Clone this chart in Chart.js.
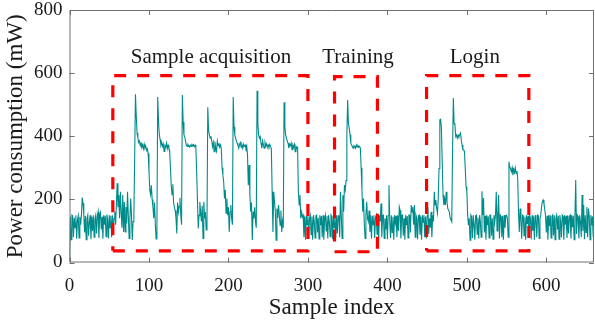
<!DOCTYPE html>
<html><head><meta charset="utf-8">
<script src="https://cdn.jsdelivr.net/npm/chart.js@4/dist/chart.umd.min.js"></script>
<style>html,body{margin:0;padding:0;background:#fff;}#wrap{width:595px;height:322px;position:relative;}</style>
</head><body><div id="wrap"><canvas id="c"></canvas></div>
<script>
// ---- data (power consumption in mW per sample index) ----
const baseA = [0,145,72,150,148,80,142,110,150,75,
135,148,78,145,120,150,206,188,150,95,
148,72,140,150,85,128,150,74,145,100,
150,80,138,150,92,147,161,78,150,158,
105,145,75,150,120,148,82,152,135,76,
150,110,148,80];
const preAcq = [150,95,140,161,120,187,251,175,214,140,224,160,110,214,97,192,97,176,124,224,150,76,140,203,150,71,130,150,330];
const cycle1 = [533,465,410,395,380,385,370,378,365,372,360,375,362,368,355,360,345,290,230,215,245,200,175,140,190,120,75,110];
const cycle2 = [524,450,405,390,372,380,368,376,352,370,365,378,360,372,362,355,300,245,215,248,190,175,165,140,92,190,160,178,205,150,120];
const cycle3 = [531,445,404,399,385,372,368,374,370,366,372,368,373,370,374,367,372,365,288,198,108,150,192,160,130,180,76,192,140,160,103,130];
const cycle4 = [492,420,404,394,400,385,367,380,351,383,360,352,385,370,378,365,372,360,300,277,256,203,230,156,203,150,175,97,161,182,140,120];
const cycle5 = [524,430,404,394,385,378,370,362,375,380,365,372,362,375,368,372,362,370,341,245,309,214,161,190,71,161,140,175,129,110];
const cycle6 = [544,440,404,394,399,378,362,385,372,362,380,370,376,365,372,366,374,368,360,224,97,224,192,161,71,171,140,182,150,118,165,97,130,110];
const cycle7 = [508,430,404,394,385,378,362,375,370,378,357,372,365,374,351,368,362,365,224,182,214,140,160,145];
const baseB = [150,80,145,72,148,120,150,76,140,150,
88,146,72,150,130,78,148,150,95,142,
75,150,118,147,80,150,72,138,150,100,
148,76,150,128,82,150,145,74,150,110,
140,78,150,92,148,150,80];
const training = [224,150,76,214,161,245,230,260,404,515,440,425,405,378,372,367,362,370,365,362,372,366,370,365,368,362,300,230,161,203,120,76,150,192,140,130,165];
const baseC = [97,150,75,148,120,150,78,142,150,90,
146,72,150,130,187,80,148,150,76,140,
105,150,74,148,245,130,78,150,95,145,
72,150,125,148,80,150,100,176,165,76,
148,150,85,140,72,150,118,147,78,150,
150,95,182,160,176,120,182,80,150,140,
74,148,150,88,145,72,150,128,150,80,
146,76];
const login = [148,176,90,140,110,161,80,150,130,224,
182,198,171,156,203,298,452,454,425,319,
214,182,200,182,224,192,171,166,160,140,
135,129,351,521,441,436,399,404,394,404,
399,405,410,388,372,357,357,351,298,240,
226,150,118,140,71];
const baseD = [150,145,78,150,120,72,148,150,90,142,
76,150,130,80,226,150,204,95,148,72,
150,118,146,78,150,150,85,140,74,150,
126,148,224,100,150,214,76,150,145,80,
148,72,150,110,148,150,140,80];
const login2 = [319,303,297,288,300,277,295,285,300,282,290,267,161,97,171,140];
const baseE = [75,150,148,85,145,72,150,122,148,78,
150,140,74,150,100,146,72,150,135,80,
150,148,76,140,150,175,192,198,188,168,
150,95,148,72,150,115,150,78,145,150,
86,150,72,140,150,104,148,74,150,130,
80,150,146,72,150,120,148,78,150,92,
145,150,75,150,112,148,72,150,261,90,
150,145,76,150,128,80,214,100,182,74,
150,95,176,80,171,148,72,150,118,146,
80];
const power = [].concat(baseA, preAcq, cycle1, cycle2, cycle3, cycle4, cycle5, cycle6, cycle7,
  baseB, training, baseC, login, baseD, login2, baseE);

// ticks
const xTicks = [0,100,200,300,400,500,600];
const yTicks = [0,200,400,600,800];

// annotated regions
const boxLabels = ['Sample acquisition','Training','Login'];
const boxX0 = [54.5,333.5,449.3];
const boxX1 = [300,387.5,578];
const boxY0 = [37,34,37];
const boxY1 = [592,589,592];
const labelX = [178,363,510];
const labelY = 633;

const FONT = "'Liberation Serif','Times New Roman',serif";
const TXT = '#1a1a1a';
const AXIS = '#6e6e6e';

const lineData = power.map((v,i)=>({x:i,y:v}));
const boxSets = boxLabels.map((name,k)=>({
  label: name,
  data: [{x:boxX0[k],y:boxY0[k]},{x:boxX1[k],y:boxY0[k]},{x:boxX1[k],y:boxY1[k]},{x:boxX0[k],y:boxY1[k]},{x:boxX0[k],y:boxY0[k]}],
  borderColor: '#ff0000',
  borderWidth: 3.2,
  borderDash: [12,11],
  pointRadius: 0,
  fill: false,
  tension: 0,
  order: 0
}));

const framePlugin = {
  id: 'frame',
  afterDraw(chart){
    const {ctx, chartArea:a, scales:{x, y}} = chart;
    ctx.save();
    ctx.strokeStyle = AXIS;
    ctx.lineWidth = 1;
    ctx.beginPath();
    ctx.rect(a.left+0.5, a.top+0.5, a.right-a.left-1, a.bottom-a.top-1);
    const tl = 5;
    xTicks.forEach(v=>{
      const px = Math.round(x.getPixelForValue(v))+0.5;
      ctx.moveTo(px, a.bottom); ctx.lineTo(px, a.bottom-tl);
      ctx.moveTo(px, a.top); ctx.lineTo(px, a.top+tl);
    });
    yTicks.forEach(v=>{
      const py = Math.round(y.getPixelForValue(v))+0.5;
      ctx.moveTo(a.left, py); ctx.lineTo(a.left+tl, py);
      ctx.moveTo(a.right, py); ctx.lineTo(a.right-tl, py);
    });
    ctx.stroke();
    ctx.fillStyle = TXT;
    ctx.font = '21px ' + FONT;
    ctx.textAlign = 'center';
    ctx.textBaseline = 'alphabetic';
    boxLabels.forEach((t,k)=>{
      ctx.fillText(t, x.getPixelForValue(labelX[k]), y.getPixelForValue(labelY));
    });
    ctx.restore();
  }
};

new Chart(document.getElementById('c'), {
  type: 'line',
  data: {
    datasets: [
      ...boxSets,
      {
        label: 'Power',
        data: lineData,
        borderColor: 'rgb(0,139,139)',
        borderWidth: 1.1,
        pointRadius: 0,
        fill: false,
        tension: 0,
        order: 1
      }
    ]
  },
  options: {
    responsive: true,
    maintainAspectRatio: false,
    animation: false,
    devicePixelRatio: 1,
    layout: { padding: { left: 0, right: 1, top: 10, bottom: 0 } },
    plugins: { legend: { display: false }, tooltip: { enabled: false } },
    scales: {
      x: {
        type: 'linear', min: 0, max: 660,
        afterBuildTicks(s){ s.ticks = xTicks.map(v=>({value:v})); },
        afterFit(s){ s.height = 59.5; s.paddingLeft = 0; s.paddingRight = 0; },
        grid: { display: false, drawTicks: false },
        border: { display: false },
        ticks: { font: { family: FONT, size: 19 }, color: TXT, padding: 12, maxRotation: 0, autoSkip: false },
        title: { display: true, text: 'Sample index', font: { family: FONT, size: 23 }, color: TXT, padding: { top: 0, bottom: 0 } }
      },
      y: {
        type: 'linear', min: 0, max: 800,
        afterBuildTicks(s){ s.ticks = yTicks.map(v=>({value:v})); },
        afterFit(s){ s.width = 69.5; s.paddingTop = 0; s.paddingBottom = 0; },
        grid: { display: false, drawTicks: false },
        border: { display: false },
        ticks: { font: { family: FONT, size: 19 }, color: TXT, padding: 7 },
        title: { display: true, text: 'Power consumption (mW)', font: { family: FONT, size: 23 }, color: TXT, padding: { top: 2, bottom: 0 } }
      }
    }
  },
  plugins: [framePlugin]
});
</script>
</body></html>
